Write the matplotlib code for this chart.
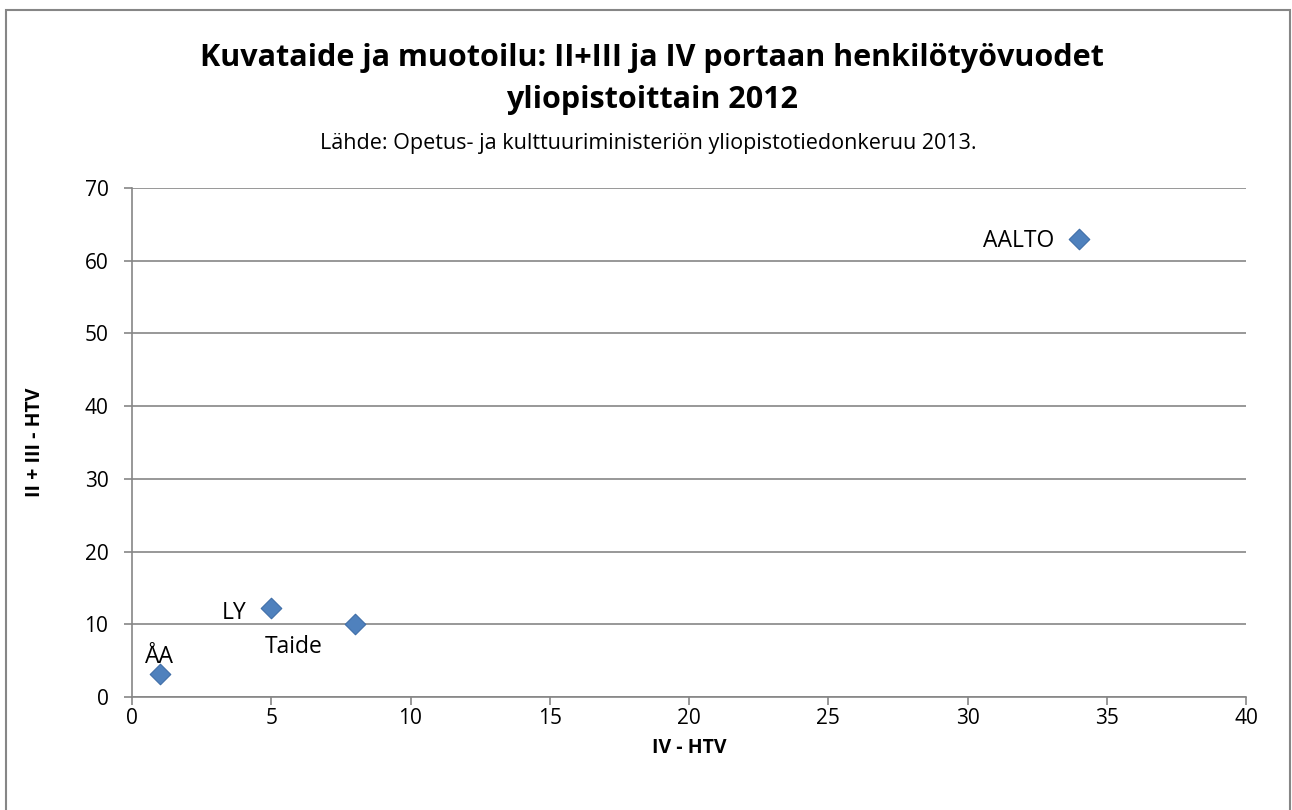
import matplotlib
matplotlib.use('Agg')
import matplotlib.pyplot as plt
from matplotlib.patches import Rectangle

plt.rcParams['font.family'] = ['Open Sans', 'DejaVu Sans']

# data
names = ['AALTO', 'LY', 'Taide', 'ÅA']
iv_htv = [34, 5, 8, 1]
ii_iii_htv = [63, 12.2, 10.1, 3.2]
label_offsets = [(-18, -5.5), (-18, -8), (-44, -21), (0, 8)]
label_ha = ['right', 'right', 'center', 'center']

xticks = list(range(0, 45, 5))
yticks = list(range(0, 80, 10))

W, H = 1292, 810
fig = plt.figure(figsize=(W/100, H/100), dpi=100)
ax = fig.add_axes([132/W, 1 - 697/H, (1246-132)/W, (697-188)/H])

grey = '#868686'
ax.scatter(iv_htv, ii_iii_htv, marker='D', s=110, color='#4F81BD',
           edgecolor='#3F6EA8', linewidth=0.8, zorder=3)

for n, x, y, off, ha in zip(names, iv_htv, ii_iii_htv, label_offsets, label_ha):
    ax.annotate(n, (x, y), xytext=off, textcoords='offset points',
                ha=ha, va='baseline', fontsize=16.5, color='black')

ax.set_xlim(0, 40)
ax.set_ylim(0, 70)
ax.set_xticks(xticks)
ax.set_yticks(yticks)
ax.yaxis.grid(True, color=grey, linewidth=1.2)
ax.set_axisbelow(True)
for side in ['top', 'right']:
    ax.spines[side].set_visible(False)
for side in ['left', 'bottom']:
    ax.spines[side].set_color(grey)
    ax.spines[side].set_linewidth(1.2)
ax.tick_params(axis='both', colors=grey, labelcolor='black', labelsize=15,
               length=6, width=1.2)
ax.tick_params(axis='y', pad=11)
ax.tick_params(axis='x', pad=2)

fig.text(689/W, 1 - 748/H, 'IV - HTV', ha='center', va='center',
         fontsize=14, fontweight='bold')
fig.text(35/W, 1 - 442/H, 'II + III - HTV', ha='center', va='center',
         rotation=90, fontsize=14, fontweight='bold')

fig.text(652/W, 1 - 58/H, 'Kuvataide ja muotoilu: II+III ja IV portaan henkilötyövuodet',
         ha='center', va='center', fontsize=22, fontweight='bold')
fig.text(652/W, 1 - 100/H, 'yliopistoittain 2012',
         ha='center', va='center', fontsize=22, fontweight='bold')
fig.text(648/W, 1 - 143/H, 'Lähde: Opetus- ja kulttuuriministeriön yliopistotiedonkeruu 2013.',
         ha='center', va='center', fontsize=15.5)

fig.patches.append(Rectangle((6/W, -0.01), (1290-6)/W, 1 - 10/H + 0.01,
                             transform=fig.transFigure,
                             fill=False, edgecolor=grey, linewidth=1.5))

plt.savefig('out.png', dpi=100)
